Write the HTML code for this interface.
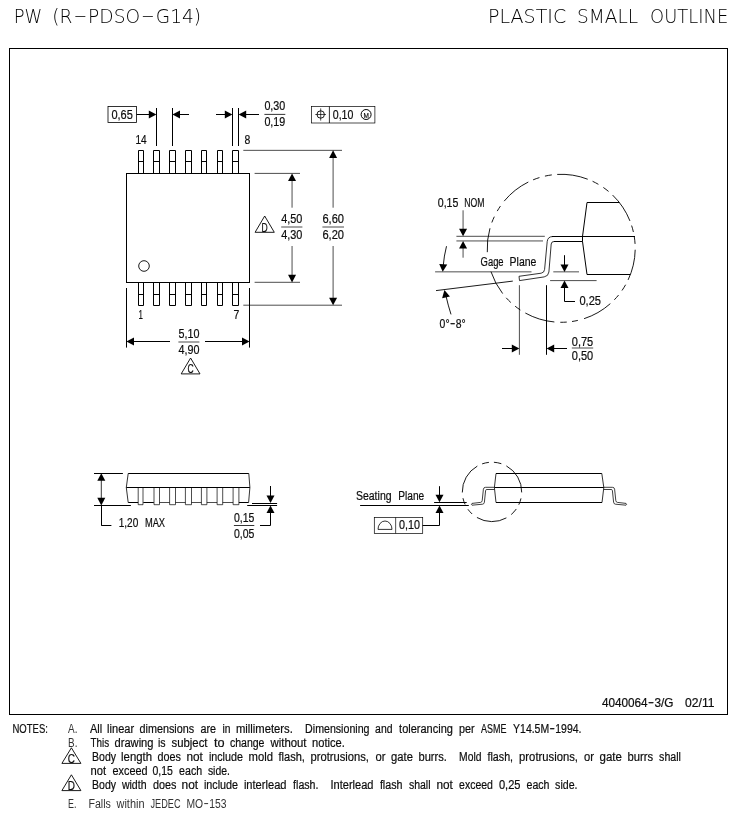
<!DOCTYPE html>
<html lang="en">
<head>
<meta charset="utf-8">
<title>PW (R-PDSO-G14) Plastic Small Outline</title>
<style>
html,body{margin:0;padding:0;background:#fff;}
body{width:750px;height:820px;overflow:hidden;}
svg{display:block;will-change:transform;filter:grayscale(1);}
svg text{font-family:"Liberation Sans",sans-serif;}
</style>
</head>
<body>
<svg width="750" height="820" viewBox="0 0 750 820">
<rect x="0" y="0" width="750" height="820" fill="#fff"/>
<text y="23.2" font-size="18.6" fill="#000" style="font-family:'DejaVu Sans Light','DejaVu Sans','Liberation Sans',sans-serif;font-weight:200"><tspan x="13.70" textLength="28.60" lengthAdjust="spacingAndGlyphs">PW</tspan> <tspan x="52.30" textLength="20.20" lengthAdjust="spacingAndGlyphs">(R</tspan><tspan x="73.43" dy="-1.2" textLength="13.73" lengthAdjust="spacingAndGlyphs">-</tspan><tspan x="88.10" dy="1.2" textLength="52.03" lengthAdjust="spacingAndGlyphs">PDSO</tspan><tspan x="141.06" dy="-1.2" textLength="13.73" lengthAdjust="spacingAndGlyphs">-</tspan><tspan x="155.72" dy="1.2" textLength="45.38" lengthAdjust="spacingAndGlyphs">G14)</tspan></text>
<text y="23.2" font-size="18.6" fill="#000" style="font-family:'DejaVu Sans Light','DejaVu Sans','Liberation Sans',sans-serif;font-weight:200"><tspan x="488.10" textLength="78.10" lengthAdjust="spacingAndGlyphs">PLASTIC</tspan> <tspan x="577.00" textLength="61.20" lengthAdjust="spacingAndGlyphs">SMALL</tspan> <tspan x="650.10" textLength="78.10" lengthAdjust="spacingAndGlyphs">OUTLINE</tspan></text>
<rect x="9.5" y="48.5" width="718.0" height="666.0" fill="none" stroke="#000" stroke-width="1"/>
<rect x="126.5" y="173.5" width="123.0" height="109.0" fill="none" stroke="#000" stroke-width="1"/>
<polyline points="138.5,173.5 138.5,150.5 143.5,150.5 143.5,173.5" fill="none" stroke="#000" stroke-width="1"/>
<line x1="138.5" y1="161.5" x2="143.5" y2="161.5" stroke="#000" stroke-width="1"/>
<polyline points="138.5,282.5 138.5,305.5 143.5,305.5 143.5,282.5" fill="none" stroke="#000" stroke-width="1"/>
<line x1="138.5" y1="294.5" x2="143.5" y2="294.5" stroke="#000" stroke-width="1"/>
<polyline points="153.5,173.5 153.5,150.5 159.5,150.5 159.5,173.5" fill="none" stroke="#000" stroke-width="1"/>
<line x1="153.5" y1="161.5" x2="159.5" y2="161.5" stroke="#000" stroke-width="1"/>
<polyline points="153.5,282.5 153.5,305.5 159.5,305.5 159.5,282.5" fill="none" stroke="#000" stroke-width="1"/>
<line x1="153.5" y1="294.5" x2="159.5" y2="294.5" stroke="#000" stroke-width="1"/>
<polyline points="169.5,173.5 169.5,150.5 175.5,150.5 175.5,173.5" fill="none" stroke="#000" stroke-width="1"/>
<line x1="169.5" y1="161.5" x2="175.5" y2="161.5" stroke="#000" stroke-width="1"/>
<polyline points="169.5,282.5 169.5,305.5 175.5,305.5 175.5,282.5" fill="none" stroke="#000" stroke-width="1"/>
<line x1="169.5" y1="294.5" x2="175.5" y2="294.5" stroke="#000" stroke-width="1"/>
<polyline points="185.5,173.5 185.5,150.5 191.5,150.5 191.5,173.5" fill="none" stroke="#000" stroke-width="1"/>
<line x1="185.5" y1="161.5" x2="191.5" y2="161.5" stroke="#000" stroke-width="1"/>
<polyline points="185.5,282.5 185.5,305.5 191.5,305.5 191.5,282.5" fill="none" stroke="#000" stroke-width="1"/>
<line x1="185.5" y1="294.5" x2="191.5" y2="294.5" stroke="#000" stroke-width="1"/>
<polyline points="201.5,173.5 201.5,150.5 206.5,150.5 206.5,173.5" fill="none" stroke="#000" stroke-width="1"/>
<line x1="201.5" y1="161.5" x2="206.5" y2="161.5" stroke="#000" stroke-width="1"/>
<polyline points="201.5,282.5 201.5,305.5 206.5,305.5 206.5,282.5" fill="none" stroke="#000" stroke-width="1"/>
<line x1="201.5" y1="294.5" x2="206.5" y2="294.5" stroke="#000" stroke-width="1"/>
<polyline points="217.5,173.5 217.5,150.5 222.5,150.5 222.5,173.5" fill="none" stroke="#000" stroke-width="1"/>
<line x1="217.5" y1="161.5" x2="222.5" y2="161.5" stroke="#000" stroke-width="1"/>
<polyline points="217.5,282.5 217.5,305.5 222.5,305.5 222.5,282.5" fill="none" stroke="#000" stroke-width="1"/>
<line x1="217.5" y1="294.5" x2="222.5" y2="294.5" stroke="#000" stroke-width="1"/>
<polyline points="232.5,173.5 232.5,150.5 238.5,150.5 238.5,173.5" fill="none" stroke="#000" stroke-width="1"/>
<line x1="232.5" y1="161.5" x2="238.5" y2="161.5" stroke="#000" stroke-width="1"/>
<polyline points="232.5,282.5 232.5,305.5 238.5,305.5 238.5,282.5" fill="none" stroke="#000" stroke-width="1"/>
<line x1="232.5" y1="294.5" x2="238.5" y2="294.5" stroke="#000" stroke-width="1"/>
<circle cx="144" cy="266" r="5.3" fill="none" stroke="#000" stroke-width="0.9"/>
<text x="135.4" y="143.8" font-size="12.5" fill="#111" text-anchor="start" textLength="11.2" lengthAdjust="spacingAndGlyphs" stroke="#000" stroke-width="0.2" xml:space="preserve">14</text>
<text x="244.4" y="143.8" font-size="12.5" fill="#111" text-anchor="start" textLength="5.8" lengthAdjust="spacingAndGlyphs" stroke="#000" stroke-width="0.2" xml:space="preserve">8</text>
<text x="138.6" y="319.2" font-size="12.5" fill="#111" text-anchor="start" textLength="4.4" lengthAdjust="spacingAndGlyphs" stroke="#000" stroke-width="0.2" xml:space="preserve">1</text>
<text x="233.4" y="319.2" font-size="12.5" fill="#111" text-anchor="start" textLength="5.8" lengthAdjust="spacingAndGlyphs" stroke="#000" stroke-width="0.2" xml:space="preserve">7</text>
<rect x="108.0" y="106.5" width="28.4" height="16.0" fill="none" stroke="#000" stroke-width="0.8"/>
<text x="111.4" y="118.8" font-size="12.5" fill="#111" text-anchor="start" textLength="21.4" lengthAdjust="spacingAndGlyphs" stroke="#000" stroke-width="0.2" xml:space="preserve">0,65</text>
<line x1="136.6" y1="114.5" x2="150" y2="114.5" stroke="#000" stroke-width="1"/>
<polygon points="156.40,114.50 148.80,118.50 148.80,110.50" fill="#000"/>
<line x1="156.5" y1="108" x2="156.5" y2="146" stroke="#000" stroke-width="1"/>
<line x1="172.5" y1="108" x2="172.5" y2="146" stroke="#000" stroke-width="1"/>
<polygon points="172.40,114.50 180.00,110.50 180.00,118.50" fill="#000"/>
<line x1="178" y1="114.5" x2="189" y2="114.5" stroke="#000" stroke-width="1"/>
<line x1="216" y1="114.5" x2="226" y2="114.5" stroke="#000" stroke-width="1"/>
<polygon points="232.40,114.50 224.80,118.50 224.80,110.50" fill="#000"/>
<line x1="232.5" y1="108" x2="232.5" y2="146" stroke="#000" stroke-width="1"/>
<line x1="238.5" y1="108" x2="238.5" y2="146" stroke="#000" stroke-width="1"/>
<polygon points="238.60,114.50 246.20,110.50 246.20,118.50" fill="#000"/>
<line x1="244" y1="114.5" x2="259" y2="114.5" stroke="#000" stroke-width="1"/>
<text x="264.4" y="109.5" font-size="12.5" fill="#111" text-anchor="start" textLength="20.9" lengthAdjust="spacingAndGlyphs" stroke="#000" stroke-width="0.2" xml:space="preserve">0,30</text>
<line x1="264.4" y1="114.4" x2="285.29999999999995" y2="114.4" stroke="#000" stroke-width="0.8"/>
<text x="264.4" y="125.7" font-size="12.5" fill="#111" text-anchor="start" textLength="20.9" lengthAdjust="spacingAndGlyphs" stroke="#000" stroke-width="0.2" xml:space="preserve">0,19</text>
<rect x="311.6" y="106.5" width="63.3" height="16.5" fill="none" stroke="#000" stroke-width="0.7"/>
<line x1="329.4" y1="106.5" x2="329.4" y2="123" stroke="#000" stroke-width="0.8"/>
<circle cx="320.7" cy="114.5" r="3.7" fill="none" stroke="#000" stroke-width="0.9"/>
<line x1="315.3" y1="114.5" x2="326" y2="114.5" stroke="#000" stroke-width="0.7"/>
<line x1="320.7" y1="108.4" x2="320.7" y2="120.6" stroke="#000" stroke-width="0.7"/>
<text x="332.8" y="119" font-size="12.5" fill="#111" text-anchor="start" textLength="20.6" lengthAdjust="spacingAndGlyphs" stroke="#000" stroke-width="0.2" xml:space="preserve">0,10</text>
<circle cx="366.1" cy="114.5" r="5" fill="none" stroke="#000" stroke-width="1"/>
<text x="363.4" y="117.5" font-size="8" fill="#111" text-anchor="start" textLength="5.4" lengthAdjust="spacingAndGlyphs" stroke="#000" stroke-width="0.2" xml:space="preserve">M</text>
<line x1="243.3" y1="150.35" x2="342" y2="150.35" stroke="#000" stroke-width="0.7"/>
<line x1="254.6" y1="173.4" x2="300" y2="173.4" stroke="#000" stroke-width="0.7"/>
<line x1="254.6" y1="282.3" x2="300" y2="282.3" stroke="#000" stroke-width="0.7"/>
<line x1="243.3" y1="305.2" x2="342" y2="305.2" stroke="#000" stroke-width="0.7"/>
<polygon points="292.05,173.40 296.05,181.00 288.05,181.00" fill="#000"/>
<line x1="292.05" y1="179" x2="292.05" y2="207.7" stroke="#000" stroke-width="0.7"/>
<line x1="292.05" y1="246" x2="292.05" y2="277" stroke="#000" stroke-width="0.7"/>
<polygon points="292.05,282.40 288.05,274.80 296.05,274.80" fill="#000"/>
<polygon points="333.10,150.30 337.10,157.90 329.10,157.90" fill="#000"/>
<line x1="333.1" y1="156" x2="333.1" y2="207.7" stroke="#000" stroke-width="0.7"/>
<line x1="333.1" y1="246" x2="333.1" y2="300" stroke="#000" stroke-width="0.7"/>
<polygon points="333.10,305.30 329.10,297.70 337.10,297.70" fill="#000"/>
<text x="281.2" y="223.4" font-size="12.5" fill="#111" text-anchor="start" textLength="21.2" lengthAdjust="spacingAndGlyphs" stroke="#000" stroke-width="0.2" xml:space="preserve">4,50</text>
<line x1="281.2" y1="227.0" x2="302.4" y2="227.0" stroke="#000" stroke-width="0.7"/>
<text x="281.2" y="238.8" font-size="12.5" fill="#111" text-anchor="start" textLength="21.2" lengthAdjust="spacingAndGlyphs" stroke="#000" stroke-width="0.2" xml:space="preserve">4,30</text>
<text x="322.4" y="223.4" font-size="12.5" fill="#111" text-anchor="start" textLength="21.6" lengthAdjust="spacingAndGlyphs" stroke="#000" stroke-width="0.2" xml:space="preserve">6,60</text>
<line x1="322.4" y1="227.0" x2="344.0" y2="227.0" stroke="#000" stroke-width="0.7"/>
<text x="322.4" y="238.8" font-size="12.5" fill="#111" text-anchor="start" textLength="21.6" lengthAdjust="spacingAndGlyphs" stroke="#000" stroke-width="0.2" xml:space="preserve">6,20</text>
<polygon points="264.7,216.0 255.1,232.3 274.3,232.3" fill="none" stroke="#000" stroke-width="0.9"/>
<text x="261.6" y="231.7" font-size="12.5" fill="#111" text-anchor="start" textLength="6.2" lengthAdjust="spacingAndGlyphs" stroke="#000" stroke-width="0.2" xml:space="preserve">D</text>
<line x1="126.5" y1="288" x2="126.5" y2="347.6" stroke="#000" stroke-width="1"/>
<line x1="249.5" y1="288" x2="249.5" y2="347.6" stroke="#000" stroke-width="1"/>
<polygon points="126.40,341.50 134.00,337.50 134.00,345.50" fill="#000"/>
<line x1="132" y1="341.5" x2="170" y2="341.5" stroke="#000" stroke-width="1"/>
<line x1="205" y1="341.5" x2="244" y2="341.5" stroke="#000" stroke-width="1"/>
<polygon points="249.60,341.50 242.00,345.50 242.00,337.50" fill="#000"/>
<text x="178.4" y="338.0" font-size="12.5" fill="#111" text-anchor="start" textLength="21" lengthAdjust="spacingAndGlyphs" stroke="#000" stroke-width="0.2" xml:space="preserve">5,10</text>
<line x1="178.4" y1="342.0" x2="199.4" y2="342.0" stroke="#000" stroke-width="0.7"/>
<text x="178.4" y="353.7" font-size="12.5" fill="#111" text-anchor="start" textLength="21" lengthAdjust="spacingAndGlyphs" stroke="#000" stroke-width="0.2" xml:space="preserve">4,90</text>
<polygon points="190.6,358.0 181.2,373.9 200.0,373.9" fill="none" stroke="#000" stroke-width="0.9"/>
<text x="187.5" y="373.3" font-size="12.5" fill="#111" text-anchor="start" textLength="6.2" lengthAdjust="spacingAndGlyphs" stroke="#000" stroke-width="0.2" xml:space="preserve">C</text>
<path d="M635.19,249.72A74,74 0 0 1 628.10,279.92 M625.61,284.74A74,74 0 0 1 621.97,290.53 M618.55,295.07A74,74 0 0 1 614.34,299.80 M610.33,303.64A74,74 0 0 1 584.07,318.68 M577.85,320.40A74,74 0 0 1 572.01,321.51 M566.75,322.09A74,74 0 0 1 560.30,322.29 M554.36,321.98A74,74 0 0 1 525.32,313.02 M520.36,310.01A74,74 0 0 1 515.13,306.21 M510.83,302.51A74,74 0 0 1 506.21,297.82 M502.65,293.55A74,74 0 0 1 490.98,271.66 M487.30,252.17A74,74 0 0 1 489.96,228.28 M491.84,222.51A74,74 0 0 1 494.30,216.68 M497.24,211.08A74,74 0 0 1 500.43,206.07 M504.18,201.13A74,74 0 0 1 528.30,182.02 M533.12,179.83A74,74 0 0 1 539.44,177.57 M544.93,176.11A74,74 0 0 1 551.80,174.90 M557.20,174.41A74,74 0 0 1 587.72,179.22 M592.59,181.29A74,74 0 0 1 598.42,184.34 M603.33,187.46A74,74 0 0 1 608.57,191.45 M612.60,195.07A74,74 0 0 1 629.96,220.94 M631.62,225.56A74,74 0 0 1 633.39,232.03 M634.27,236.60A74,74 0 0 1 635.07,243.91" fill="none" stroke="#000" stroke-width="0.9"/>
<polyline points="619.4,202.5 587,202.5 582.5,236.5 582.5,241.5 587,274.5 630.4,274.5" fill="none" stroke="#000" stroke-width="1"/>
<line x1="552" y1="236.5" x2="635" y2="236.5" stroke="#000" stroke-width="1"/>
<path d="M519,276.3 L541.2,273.2 Q544.3,272.7 544.6,269.4 L547.2,241.6 Q547.7,236.5 553,236.5" fill="none" stroke="#000" stroke-width="0.8"/>
<path d="M519,276.3 L519.5,280.6 L544.2,276.9 Q548.4,276.2 548.9,272 L551.2,244 Q551.4,241.5 554,241.5 L582.4,241.5" fill="none" stroke="#000" stroke-width="0.8"/>
<line x1="554" y1="241.5" x2="582.5" y2="241.5" stroke="#000" stroke-width="1"/>
<text y="207" font-size="12.5" fill="#111" stroke="#000" stroke-width="0.2"><tspan x="437.80" textLength="20.60" lengthAdjust="spacingAndGlyphs">0,15</tspan> <tspan x="464.20" textLength="20.20" lengthAdjust="spacingAndGlyphs">NOM</tspan></text>
<line x1="463.07" y1="210.3" x2="463.07" y2="230" stroke="#000" stroke-width="0.7"/>
<polygon points="463.07,236.30 459.07,228.70 467.07,228.70" fill="#000"/>
<line x1="456.4" y1="236.3" x2="544.8" y2="236.3" stroke="#000" stroke-width="0.7"/>
<line x1="456.4" y1="240.95" x2="543" y2="240.95" stroke="#000" stroke-width="0.7"/>
<polygon points="463.07,241.00 467.07,248.60 459.07,248.60" fill="#000"/>
<line x1="463.07" y1="247" x2="463.07" y2="257.7" stroke="#000" stroke-width="0.7"/>
<text y="265.8" font-size="12.5" fill="#111" stroke="#000" stroke-width="0.2"><tspan x="480.60" textLength="23.00" lengthAdjust="spacingAndGlyphs">Gage</tspan> <tspan x="509.60" textLength="26.80" lengthAdjust="spacingAndGlyphs">Plane</tspan></text>
<line x1="435.1" y1="271.85" x2="531.5" y2="271.85" stroke="#000" stroke-width="0.7"/>
<line x1="436" y1="290.6" x2="512.8" y2="281.1" stroke="#000" stroke-width="0.9"/>
<path d="M446.5,246.2 Q444,256 443.2,266" fill="none" stroke="#000" stroke-width="0.9"/>
<polygon points="442.70,271.80 439.24,263.94 447.22,264.50" fill="#000"/>
<path d="M451,314.4 Q448,305 446,296" fill="none" stroke="#000" stroke-width="0.9"/>
<polygon points="444.40,290.00 449.94,296.56 442.13,298.28" fill="#000"/>
<text y="328" font-size="12.5" fill="#111" stroke="#000" stroke-width="0.2"><tspan x="439.60" textLength="9.96" lengthAdjust="spacingAndGlyphs">0°</tspan><tspan x="449.92" dy="-1.1" textLength="5.35" lengthAdjust="spacingAndGlyphs">-</tspan><tspan x="455.64" dy="1.1" textLength="9.96" lengthAdjust="spacingAndGlyphs">8°</tspan></text>
<line x1="564.5" y1="255.2" x2="564.5" y2="266" stroke="#000" stroke-width="1"/>
<polygon points="564.50,272.00 560.50,264.40 568.50,264.40" fill="#000"/>
<line x1="553.3" y1="271.85" x2="579" y2="271.85" stroke="#000" stroke-width="0.7"/>
<line x1="550.1" y1="280.6" x2="596.6" y2="280.6" stroke="#000" stroke-width="0.7"/>
<polygon points="564.50,280.40 568.50,288.00 560.50,288.00" fill="#000"/>
<polyline points="564.5,286 564.5,301.5 575,301.5" fill="none" stroke="#000" stroke-width="1"/>
<text x="579.4" y="305" font-size="12.5" fill="#111" text-anchor="start" textLength="21.6" lengthAdjust="spacingAndGlyphs" stroke="#000" stroke-width="0.2" xml:space="preserve">0,25</text>
<line x1="519.4" y1="285.2" x2="519.4" y2="354.8" stroke="#000" stroke-width="0.7"/>
<line x1="546.5" y1="285.2" x2="546.5" y2="354.8" stroke="#000" stroke-width="1"/>
<line x1="502" y1="348.5" x2="514" y2="348.5" stroke="#000" stroke-width="1"/>
<polygon points="519.40,348.50 511.80,352.50 511.80,344.50" fill="#000"/>
<polygon points="546.60,348.50 554.20,344.50 554.20,352.50" fill="#000"/>
<line x1="552" y1="348.5" x2="567" y2="348.5" stroke="#000" stroke-width="1"/>
<text x="571.8" y="345.8" font-size="12.5" fill="#111" text-anchor="start" textLength="21.4" lengthAdjust="spacingAndGlyphs" stroke="#000" stroke-width="0.2" xml:space="preserve">0,75</text>
<line x1="571.8" y1="348.0" x2="593.1999999999999" y2="348.0" stroke="#000" stroke-width="0.7"/>
<text x="571.8" y="359.6" font-size="12.5" fill="#111" text-anchor="start" textLength="21.4" lengthAdjust="spacingAndGlyphs" stroke="#000" stroke-width="0.2" xml:space="preserve">0,50</text>
<line x1="128.2" y1="473.5" x2="248.8" y2="473.5" stroke="#000" stroke-width="1"/>
<line x1="126.3" y1="487.5" x2="249.9" y2="487.5" stroke="#000" stroke-width="1"/>
<line x1="128.2" y1="502.5" x2="138.2" y2="502.5" stroke="#000" stroke-width="1"/>
<line x1="143.3" y1="502.5" x2="153.8" y2="502.5" stroke="#000" stroke-width="1"/>
<line x1="238.9" y1="502.5" x2="248.6" y2="502.5" stroke="#000" stroke-width="1"/>
<polyline points="128.2,473.5 126.3,487.5 128.2,502.5" fill="none" stroke="#000" stroke-width="0.8"/>
<polyline points="248.8,473.5 249.9,487.5 248.6,502.5" fill="none" stroke="#000" stroke-width="0.8"/>
<polyline points="138.2,488 138.2,504.7 143.0,504.7 143.0,488" fill="none" stroke="#000" stroke-width="0.7"/>
<polyline points="154.0,488 154.0,504.7 159.5,504.7 159.5,488" fill="none" stroke="#000" stroke-width="0.7"/>
<line x1="159.5" y1="502.5" x2="169.6" y2="502.5" stroke="#000" stroke-width="0.7"/>
<polyline points="169.6,488 169.6,504.7 175.5,504.7 175.5,488" fill="none" stroke="#000" stroke-width="0.7"/>
<line x1="175.5" y1="502.5" x2="185.4" y2="502.5" stroke="#000" stroke-width="0.7"/>
<polyline points="185.4,488 185.4,504.7 191.5,504.7 191.5,488" fill="none" stroke="#000" stroke-width="0.7"/>
<line x1="191.5" y1="502.5" x2="201.4" y2="502.5" stroke="#000" stroke-width="0.7"/>
<polyline points="201.4,488 201.4,504.7 206.9,504.7 206.9,488" fill="none" stroke="#000" stroke-width="0.7"/>
<line x1="206.9" y1="502.5" x2="217.1" y2="502.5" stroke="#000" stroke-width="0.7"/>
<polyline points="217.1,488 217.1,504.7 222.7,504.7 222.7,488" fill="none" stroke="#000" stroke-width="0.7"/>
<line x1="222.7" y1="502.5" x2="233.1" y2="502.5" stroke="#000" stroke-width="0.7"/>
<polyline points="233.1,488 233.1,504.7 238.9,504.7 238.9,488" fill="none" stroke="#000" stroke-width="0.7"/>
<line x1="94" y1="473.5" x2="122.9" y2="473.5" stroke="#000" stroke-width="1"/>
<line x1="94" y1="505.5" x2="130.9" y2="505.5" stroke="#000" stroke-width="1"/>
<polygon points="101.30,473.20 105.30,480.80 97.30,480.80" fill="#000"/>
<polygon points="101.30,505.40 97.30,497.80 105.30,497.80" fill="#000"/>
<line x1="101.3" y1="479" x2="101.3" y2="499" stroke="#000" stroke-width="0.8"/>
<polyline points="101.5,511 101.5,525.5 111.4,525.5" fill="none" stroke="#000" stroke-width="1"/>
<line x1="101.5" y1="505" x2="101.5" y2="525.5" stroke="#000" stroke-width="1"/>
<text y="526.9" font-size="12.5" fill="#111" stroke="#000" stroke-width="0.2"><tspan x="118.70" textLength="19.60" lengthAdjust="spacingAndGlyphs">1,20</tspan> <tspan x="144.90" textLength="20.20" lengthAdjust="spacingAndGlyphs">MAX</tspan></text>
<line x1="270.5" y1="486" x2="270.5" y2="497" stroke="#000" stroke-width="1"/>
<polygon points="270.50,503.00 266.50,495.40 274.50,495.40" fill="#000"/>
<line x1="252" y1="503.5" x2="277.1" y2="503.5" stroke="#000" stroke-width="1"/>
<line x1="247.2" y1="505.5" x2="277.1" y2="505.5" stroke="#000" stroke-width="1"/>
<polygon points="270.50,505.50 274.50,513.10 266.50,513.10" fill="#000"/>
<polyline points="270.5,511 270.5,525.5 260,525.5" fill="none" stroke="#000" stroke-width="1"/>
<text x="233.9" y="521.9" font-size="12.5" fill="#111" text-anchor="start" textLength="20.4" lengthAdjust="spacingAndGlyphs" stroke="#000" stroke-width="0.2" xml:space="preserve">0,15</text>
<line x1="233.9" y1="525.5" x2="254.3" y2="525.5" stroke="#000" stroke-width="0.8"/>
<text x="233.9" y="537.9" font-size="12.5" fill="#111" text-anchor="start" textLength="20.4" lengthAdjust="spacingAndGlyphs" stroke="#000" stroke-width="0.2" xml:space="preserve">0,05</text>
<line x1="496" y1="473.5" x2="601.8" y2="473.5" stroke="#000" stroke-width="1"/>
<line x1="494.4" y1="487.5" x2="603.8" y2="487.5" stroke="#000" stroke-width="1"/>
<line x1="496" y1="502.5" x2="602" y2="502.5" stroke="#000" stroke-width="1"/>
<polyline points="496,473.5 494.4,487.5 496,502.5" fill="none" stroke="#000" stroke-width="0.8"/>
<polyline points="601.8,473.5 603.8,487.5 602,502.5" fill="none" stroke="#000" stroke-width="0.8"/>
<path d="M506.35,465.90A29.7,29.7 0 0 1 521.70,492.42 M520.98,498.38A29.7,29.7 0 0 1 518.81,504.69 M516.30,508.98A29.7,29.7 0 0 1 511.21,514.55 M506.40,517.88A29.7,29.7 0 0 1 476.93,517.49 M472.13,513.97A29.7,29.7 0 0 1 467.91,509.27 M465.08,504.45A29.7,29.7 0 0 1 462.97,498.18 M462.31,492.47A29.7,29.7 0 0 1 477.33,466.08 M482.13,463.89A29.7,29.7 0 0 1 488.90,462.36 M493.92,462.26A29.7,29.7 0 0 1 501.33,463.70" fill="none" stroke="#000" stroke-width="0.9"/>
<path d="M494.4,487.3 L485.6,487.3 Q483.6,487.3 483.4,489.2 L482.2,500.6 Q482,502.2 480.6,502.4 L472,503.4 Q470.8,504.2 472,505.2 L482.6,504.2 Q484.2,504 484.4,502.2 L485.6,490.6 Q485.7,489.5 486.8,489.5 L494.4,489.5" fill="none" stroke="#000" stroke-width="0.75"/>
<path d="M603.8,487.3 L612.4,487.3 Q614.4,487.3 614.6,489.2 L615.8,500.6 Q616,502.2 617.4,502.4 L626,503.4 Q627.2,504.2 626,505.2 L615.4,504.2 Q613.8,504 613.6,502.2 L612.4,490.6 Q612.3,489.5 611.2,489.5 L603.8,489.5" fill="none" stroke="#000" stroke-width="0.75"/>
<text y="500.3" font-size="12.5" fill="#111" stroke="#000" stroke-width="0.2"><tspan x="355.90" textLength="35.70" lengthAdjust="spacingAndGlyphs">Seating</tspan> <tspan x="398.20" textLength="26.00" lengthAdjust="spacingAndGlyphs">Plane</tspan></text>
<line x1="360.1" y1="505.5" x2="468.8" y2="505.5" stroke="#000" stroke-width="1"/>
<line x1="434.1" y1="502.5" x2="466.7" y2="502.5" stroke="#000" stroke-width="1"/>
<line x1="439.5" y1="486.2" x2="439.5" y2="497" stroke="#000" stroke-width="1"/>
<polygon points="439.50,502.30 435.50,494.70 443.50,494.70" fill="#000"/>
<polygon points="439.50,505.50 443.50,513.10 435.50,513.10" fill="#000"/>
<polyline points="439.5,511 439.5,525.5 422.6,525.5" fill="none" stroke="#000" stroke-width="1"/>
<rect x="374.3" y="517.4" width="48.4" height="16.0" fill="none" stroke="#000" stroke-width="0.7"/>
<line x1="395.65" y1="517.4" x2="395.65" y2="533.4" stroke="#000" stroke-width="0.7"/>
<path d="M378,529.4 A7,8.4 0 0 1 392,529.4 Z" fill="none" stroke="#000" stroke-width="0.8"/>
<text x="399" y="529.1" font-size="12.5" fill="#111" text-anchor="start" textLength="21" lengthAdjust="spacingAndGlyphs" stroke="#000" stroke-width="0.2" xml:space="preserve">0,10</text>
<text y="707.2" font-size="12.5" fill="#111" stroke="#000" stroke-width="0.2"><tspan x="601.90" textLength="45.78" lengthAdjust="spacingAndGlyphs">4040064</tspan><tspan x="648.09" dy="-1.1" textLength="6.04" lengthAdjust="spacingAndGlyphs">-</tspan><tspan x="654.55" dy="1.1" textLength="18.95" lengthAdjust="spacingAndGlyphs">3/G</tspan> <tspan x="685.10" textLength="29.40" lengthAdjust="spacingAndGlyphs">02/11</tspan></text>
<text y="733" font-size="12.5" fill="#111" stroke="#000" stroke-width="0.2"><tspan x="12.50" textLength="35.40" lengthAdjust="spacingAndGlyphs">NOTES:</tspan></text>
<text y="733" font-size="12.5" fill="#333"><tspan x="68.10" textLength="9.40" lengthAdjust="spacingAndGlyphs">A.</tspan></text>
<text y="733" font-size="12.5" fill="#111" stroke="#000" stroke-width="0.2"><tspan x="89.90" textLength="12.20" lengthAdjust="spacingAndGlyphs">All</tspan> <tspan x="107.10" textLength="27.00" lengthAdjust="spacingAndGlyphs">linear</tspan> <tspan x="139.50" textLength="54.60" lengthAdjust="spacingAndGlyphs">dimensions</tspan> <tspan x="200.50" textLength="15.60" lengthAdjust="spacingAndGlyphs">are</tspan> <tspan x="222.50" textLength="8.00" lengthAdjust="spacingAndGlyphs">in</tspan> <tspan x="235.90" textLength="57.00" lengthAdjust="spacingAndGlyphs">millimeters.</tspan> <tspan x="305.10" textLength="64.40" lengthAdjust="spacingAndGlyphs">Dimensioning</tspan> <tspan x="375.10" textLength="17.40" lengthAdjust="spacingAndGlyphs">and</tspan> <tspan x="399.10" textLength="53.80" lengthAdjust="spacingAndGlyphs">tolerancing</tspan> <tspan x="458.90" textLength="15.60" lengthAdjust="spacingAndGlyphs">per</tspan> <tspan x="481.10" textLength="25.40" lengthAdjust="spacingAndGlyphs">ASME</tspan> <tspan x="513.10" textLength="36.08" lengthAdjust="spacingAndGlyphs">Y14.5M</tspan><tspan x="549.55" dy="-1.1" textLength="5.38" lengthAdjust="spacingAndGlyphs">-</tspan><tspan x="555.30" dy="1.1" textLength="26.20" lengthAdjust="spacingAndGlyphs">1994.</tspan></text>
<text y="746.6" font-size="12.5" fill="#333"><tspan x="68.10" textLength="9.40" lengthAdjust="spacingAndGlyphs">B.</tspan></text>
<text y="746.6" font-size="12.5" fill="#111" stroke="#000" stroke-width="0.2"><tspan x="90.50" textLength="18.60" lengthAdjust="spacingAndGlyphs">This</tspan> <tspan x="114.50" textLength="39.00" lengthAdjust="spacingAndGlyphs">drawing</tspan> <tspan x="157.90" textLength="7.60" lengthAdjust="spacingAndGlyphs">is</tspan> <tspan x="171.50" textLength="36.00" lengthAdjust="spacingAndGlyphs">subject</tspan> <tspan x="213.90" textLength="10.60" lengthAdjust="spacingAndGlyphs">to</tspan> <tspan x="229.90" textLength="34.60" lengthAdjust="spacingAndGlyphs">change</tspan> <tspan x="270.50" textLength="36.00" lengthAdjust="spacingAndGlyphs">without</tspan> <tspan x="312.10" textLength="32.80" lengthAdjust="spacingAndGlyphs">notice.</tspan></text>
<polygon points="71.4,747.8 61.9,763.4 80.9,763.4" fill="none" stroke="#000" stroke-width="0.9"/>
<text x="67.8" y="762.8" font-size="12.5" fill="#111" text-anchor="start" textLength="7.2" lengthAdjust="spacingAndGlyphs" stroke="#000" stroke-width="0.2" xml:space="preserve">C</text>
<text y="761.4" font-size="12.5" fill="#111" stroke="#000" stroke-width="0.2"><tspan x="92.10" textLength="24.00" lengthAdjust="spacingAndGlyphs">Body</tspan> <tspan x="121.10" textLength="31.00" lengthAdjust="spacingAndGlyphs">length</tspan> <tspan x="157.50" textLength="23.40" lengthAdjust="spacingAndGlyphs">does</tspan> <tspan x="186.50" textLength="16.40" lengthAdjust="spacingAndGlyphs">not</tspan> <tspan x="208.90" textLength="34.00" lengthAdjust="spacingAndGlyphs">include</tspan> <tspan x="248.50" textLength="24.40" lengthAdjust="spacingAndGlyphs">mold</tspan> <tspan x="278.50" textLength="26.40" lengthAdjust="spacingAndGlyphs">flash,</tspan> <tspan x="310.50" textLength="58.40" lengthAdjust="spacingAndGlyphs">protrusions,</tspan> <tspan x="375.50" textLength="10.00" lengthAdjust="spacingAndGlyphs">or</tspan> <tspan x="391.10" textLength="21.80" lengthAdjust="spacingAndGlyphs">gate</tspan> <tspan x="418.50" textLength="28.40" lengthAdjust="spacingAndGlyphs">burrs.</tspan> <tspan x="459.10" textLength="22.40" lengthAdjust="spacingAndGlyphs">Mold</tspan> <tspan x="487.50" textLength="25.60" lengthAdjust="spacingAndGlyphs">flash,</tspan> <tspan x="519.10" textLength="58.90" lengthAdjust="spacingAndGlyphs">protrusions,</tspan> <tspan x="583.90" textLength="10.00" lengthAdjust="spacingAndGlyphs">or</tspan> <tspan x="599.50" textLength="22.40" lengthAdjust="spacingAndGlyphs">gate</tspan> <tspan x="627.50" textLength="25.60" lengthAdjust="spacingAndGlyphs">burrs</tspan> <tspan x="659.10" textLength="21.80" lengthAdjust="spacingAndGlyphs">shall</tspan></text>
<text y="775" font-size="12.5" fill="#111" stroke="#000" stroke-width="0.2"><tspan x="90.50" textLength="15.60" lengthAdjust="spacingAndGlyphs">not</tspan> <tspan x="112.50" textLength="35.00" lengthAdjust="spacingAndGlyphs">exceed</tspan> <tspan x="152.50" textLength="20.40" lengthAdjust="spacingAndGlyphs">0,15</tspan> <tspan x="179.10" textLength="23.00" lengthAdjust="spacingAndGlyphs">each</tspan> <tspan x="207.90" textLength="22.00" lengthAdjust="spacingAndGlyphs">side.</tspan></text>
<polygon points="71.4,774.8 61.9,790.6 80.9,790.6" fill="none" stroke="#000" stroke-width="0.9"/>
<text x="67.8" y="790.0" font-size="12.5" fill="#111" text-anchor="start" textLength="7.2" lengthAdjust="spacingAndGlyphs" stroke="#000" stroke-width="0.2" xml:space="preserve">D</text>
<text y="789" font-size="12.5" fill="#111" stroke="#000" stroke-width="0.2"><tspan x="92.10" textLength="24.00" lengthAdjust="spacingAndGlyphs">Body</tspan> <tspan x="121.90" textLength="24.60" lengthAdjust="spacingAndGlyphs">width</tspan> <tspan x="153.10" textLength="23.40" lengthAdjust="spacingAndGlyphs">does</tspan> <tspan x="181.50" textLength="16.60" lengthAdjust="spacingAndGlyphs">not</tspan> <tspan x="203.90" textLength="34.20" lengthAdjust="spacingAndGlyphs">include</tspan> <tspan x="243.90" textLength="42.60" lengthAdjust="spacingAndGlyphs">interlead</tspan> <tspan x="293.10" textLength="25.40" lengthAdjust="spacingAndGlyphs">flash.</tspan> <tspan x="330.50" textLength="43.00" lengthAdjust="spacingAndGlyphs">Interlead</tspan> <tspan x="379.90" textLength="22.60" lengthAdjust="spacingAndGlyphs">flash</tspan> <tspan x="408.90" textLength="21.60" lengthAdjust="spacingAndGlyphs">shall</tspan> <tspan x="436.50" textLength="16.40" lengthAdjust="spacingAndGlyphs">not</tspan> <tspan x="459.10" textLength="33.80" lengthAdjust="spacingAndGlyphs">exceed</tspan> <tspan x="498.90" textLength="21.60" lengthAdjust="spacingAndGlyphs">0,25</tspan> <tspan x="526.50" textLength="23.00" lengthAdjust="spacingAndGlyphs">each</tspan> <tspan x="555.10" textLength="22.40" lengthAdjust="spacingAndGlyphs">side.</tspan></text>
<text y="807.6" font-size="12.5" fill="#333"><tspan x="68.10" textLength="8.40" lengthAdjust="spacingAndGlyphs">E.</tspan> <tspan x="88.50" textLength="22.40" lengthAdjust="spacingAndGlyphs">Falls</tspan> <tspan x="116.50" textLength="28.00" lengthAdjust="spacingAndGlyphs">within</tspan> <tspan x="150.50" textLength="30.00" lengthAdjust="spacingAndGlyphs">JEDEC</tspan> <tspan x="186.50" textLength="16.68" lengthAdjust="spacingAndGlyphs">MO</tspan><tspan x="203.54" dy="-1.1" textLength="5.32" lengthAdjust="spacingAndGlyphs">-</tspan><tspan x="209.22" dy="1.1" textLength="17.28" lengthAdjust="spacingAndGlyphs">153</tspan></text>
</svg>
</body>
</html>
